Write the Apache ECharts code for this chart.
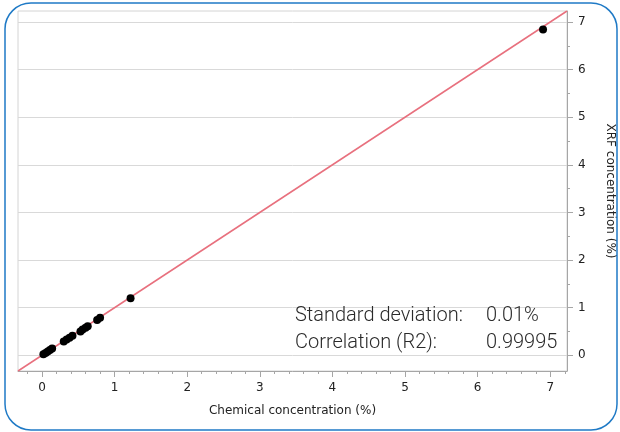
<!DOCTYPE html>
<html>
<head>
<meta charset="utf-8">
<script src="https://cdn.jsdelivr.net/npm/echarts@6/dist/echarts.min.js"></script>
<style>html,body{margin:0;padding:0;background:#fff;}#c{width:620px;height:432px;}</style>
</head>
<body>
<div id="c"></div>
<script>
// Data
const chemical = [0.02, 0.05, 0.08, 0.11, 0.14, 0.30, 0.34, 0.38, 0.42, 0.53, 0.56, 0.60, 0.63, 0.76, 0.80, 1.22, 6.90];
const xrf      = [0.02, 0.05, 0.08, 0.11, 0.14, 0.29, 0.33, 0.37, 0.41, 0.50, 0.54, 0.58, 0.61, 0.74, 0.79, 1.20, 6.84];
const identityLine = [-0.33, 7.23];
const majorTicks = [0, 1, 2, 3, 4, 5, 6, 7];
const xMinorTicks = [-0.2, 0.2, 0.4, 0.6, 0.8, 1.2, 1.4, 1.6, 1.8, 2.2, 2.4, 2.6, 2.8, 3.2, 3.4, 3.6, 3.8, 4.2, 4.4, 4.6, 4.8, 5.2, 5.4, 5.6, 5.8, 6.2, 6.4, 6.6, 6.8, 7.2];
const yMinorTicks = [0.5, 1.5, 2.5, 3.5, 4.5, 5.5, 6.5];
const statLabels = ['Standard deviation:', 'Correlation (R2):'];
const statValues = ['0.01%', '0.99995'];
const xTitle = 'Chemical concentration (%)';
const yTitle = 'XRF concentration (%)';

const AX_MIN = -0.33, AX_MAX = 7.23;
const tickFont = {fontFamily: 'DejaVu Sans', fontSize: 12, color: '#222'};

const chart = echarts.init(document.getElementById('c'), null, {renderer: 'canvas'});
const axisColor = '#a6a6a6';

chart.setOption({
  animation: false,
  backgroundColor: '#fff',
  grid: {left: 18, right: 53, top: 11, bottom: 61, show: true, borderColor: '#d4d4d4', borderWidth: 1,
         containLabel: false, outerBoundsMode: 'none'},
  xAxis: [
    {
      type: 'value', min: AX_MIN, max: AX_MAX, position: 'bottom',
      name: xTitle, nameLocation: 'middle', nameGap: 34,
      nameTextStyle: tickFont,
      axisLine: {show: true, onZero: false, lineStyle: {color: axisColor}},
      axisTick: {show: true, length: 6, customValues: majorTicks, lineStyle: {color: axisColor}},
      axisLabel: {customValues: majorTicks, margin: 11, ...tickFont},
      splitLine: {show: false}
    },
    {
      type: 'value', min: AX_MIN, max: AX_MAX, position: 'bottom', gridIndex: 0,
      axisLine: {show: false, onZero: false},
      axisTick: {show: true, length: 3, customValues: xMinorTicks, lineStyle: {color: axisColor}},
      axisLabel: {show: false},
      splitLine: {show: false}
    }
  ],
  yAxis: [
    {
      type: 'value', min: AX_MIN, max: AX_MAX, position: 'right',
      name: yTitle, nameLocation: 'middle', nameGap: 37, nameRotate: -90,
      nameTextStyle: tickFont,
      axisLine: {show: true, onZero: false, lineStyle: {color: axisColor}},
      axisTick: {show: true, length: 6, customValues: majorTicks, lineStyle: {color: axisColor}},
      axisLabel: {customValues: majorTicks, margin: 11, ...tickFont},
      splitLine: {show: true, lineStyle: {color: '#d9d9d9', width: 1}}
    },
    {
      type: 'value', min: AX_MIN, max: AX_MAX, position: 'right',
      axisLine: {show: false, onZero: false},
      axisTick: {show: true, length: 3, customValues: yMinorTicks, lineStyle: {color: axisColor}},
      axisLabel: {show: false},
      splitLine: {show: false}
    }
  ],
  series: [
    {
      type: 'line', xAxisIndex: 0, yAxisIndex: 0,
      data: identityLine.map(v => [v, v]),
      showSymbol: false, symbol: 'none',
      lineStyle: {color: '#e8707e', width: 1.5},
      silent: true, z: 2
    },
    {
      type: 'scatter', xAxisIndex: 0, yAxisIndex: 0,
      data: chemical.map((v, i) => [v, xrf[i]]),
      symbolSize: 8,
      itemStyle: {color: '#000', opacity: 1},
      z: 3
    }
  ],
  graphic: [
    {
      type: 'rect', silent: true, z: 100,
      shape: {x: 5, y: 3, width: 612, height: 427, r: 26},
      style: {fill: 'none', stroke: '#1f7ac6', lineWidth: 1.5}
    },
    {type: 'text', left: 295, top: 306, z: 50, style: {text: statLabels[0], font: '300 20px Roboto', fill: '#2a2a2a'}},
    {type: 'text', left: 295, top: 333, z: 50, style: {text: statLabels[1], font: '300 20px Roboto', fill: '#2a2a2a'}},
    {type: 'text', left: 486, top: 306, z: 50, style: {text: statValues[0], font: '300 20px Roboto', fill: '#2a2a2a'}},
    {type: 'text', left: 486, top: 333, z: 50, style: {text: statValues[1], font: '300 20px Roboto', fill: '#2a2a2a'}}
  ]
});
</script>
</body>
</html>
